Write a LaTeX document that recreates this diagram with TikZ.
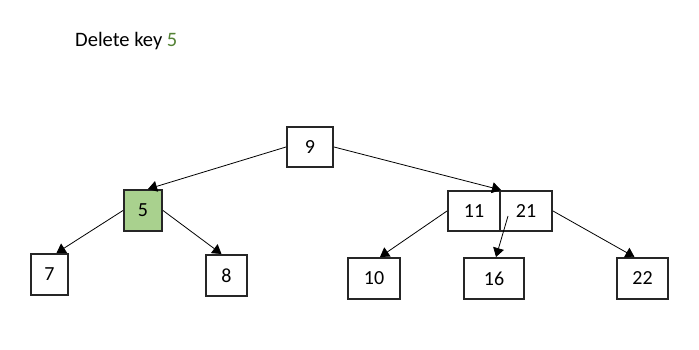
\documentclass[tikz,border=0pt]{standalone}
\usepackage{fontspec}
\setmainfont{Carlito}
\usetikzlibrary{arrows.meta,calc}
\definecolor{nodegreen}{HTML}{A9D18E}
\definecolor{textgreen}{HTML}{548235}
\definecolor{boxline}{HTML}{262626}
\begin{document}
\begin{tikzpicture}[x=1pt,y=-1pt,
  keybox/.style={draw=boxline,line width=2pt,fill=white,inner sep=0pt,font=\fontsize{20}{22}\selectfont},
  link/.style={line width=0.8pt,-{Triangle[length=9pt,width=11pt]}}]
\useasboundingbox (0,0) rectangle (699,350);
\node[anchor=base west,inner sep=0pt,font=\fontsize{20.5}{22}\selectfont] (title) at (75,47) {Delete key \textcolor{textgreen}{5}};
\node[keybox,minimum width=46pt,minimum height=40pt] (n9) at (310,147) {9};
\node[keybox,minimum width=38pt,minimum height=41pt,fill=nodegreen] (n5) at (143,210.5) {5};
\node[keybox,minimum width=37pt,minimum height=41pt] (n7) at (49.5,274.5) {7};
\node[keybox,minimum width=41pt,minimum height=41pt] (n8) at (226.5,275.5) {8};
\node[keybox,minimum width=52pt,minimum height=40pt] (n11) at (474,211) {11};
\node[keybox,minimum width=52pt,minimum height=40pt] (n21) at (526,211) {21};
\node[keybox,minimum width=52pt,minimum height=41pt] (n10) at (374,278.5) {10};
\node[keybox,minimum width=60pt,minimum height=41pt] (n16) at (494,278.5) {16};
\node[keybox,minimum width=51pt,minimum height=41pt] (n22) at (642.5,278.5) {22};
\coordinate (s21) at ($(n21.west)+(9,5)$);
\draw[link] (n9.west) -- ($(n5.north)+(5,0)$);
\draw[link] (n9.east) -- (n11.north east);
\draw[link] (n5.west) -- ($(n7.north)+(7,0)$);
\draw[link] (n5.east) -- ($(n8.north)+(-5,0)$);
\draw[link] (n11.west) -- ($(n10.north)+(6,0)$);
\draw[link] (s21) -- ($(n16.north)+(2,0)$);
\draw[link] (n21.east) -- ($(n22.north)+(-8,0)$);
\end{tikzpicture}
\end{document}
